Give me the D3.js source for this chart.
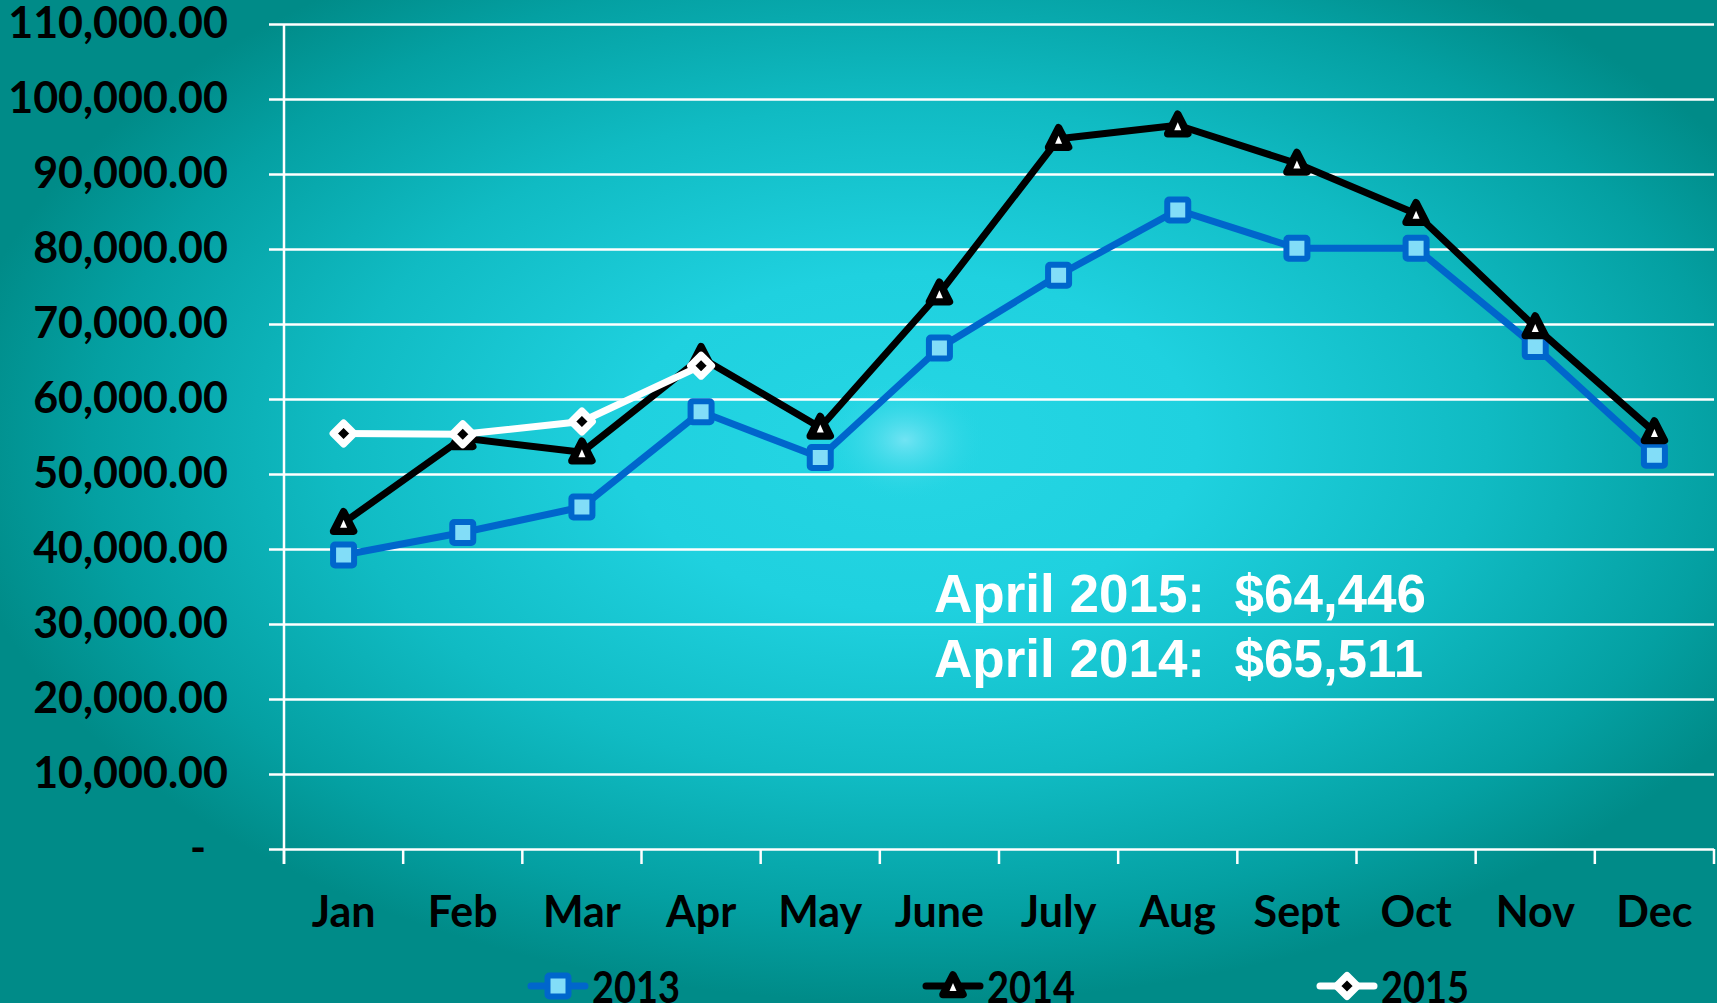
<!DOCTYPE html>
<html>
<head>
<meta charset="utf-8">
<script src="https://cdn.jsdelivr.net/npm/d3@7"></script>
<style>
  html, body { margin: 0; padding: 0; overflow: hidden; background: #008b88; }
</style>
</head>
<body>
<div id="chart"></div>
<script>
// chart data
const months = ["Jan", "Feb", "Mar", "Apr", "May", "June", "July", "Aug", "Sept", "Oct", "Nov", "Dec"];
const sales2013 = [39200, 42200, 45600, 58300, 52200, 66800, 76500, 85200, 80100, 80100, 67000, 52500];
const sales2014 = [43500, 54800, 52900, 65511, 56200, 74100, 94700, 96500, 91400, 84700, 69600, 55600];
const sales2015 = [55400, 55300, 57000, 64446];
const seriesNames = ["2013", "2014", "2015"];
const yTicks = d3.range(0, 110001, 10000);
const notes = ["April 2015:  $64,446", "April 2014:  $65,511"];

// layout
const W = 1717, H = 1003;
const PLOT = { left: 284, right: 1714, top: 24, bottom: 849 };
const TICK = 15;
const AXIS_FONT = "Lato, 'Open Sans', sans-serif";

const svg = d3.select("#chart").append("svg")
  .attr("width", W)
  .attr("height", H);

// background gradient
const defs = svg.append("defs");
const bg = defs.append("radialGradient")
  .attr("id", "bg")
  .attr("cx", 0.53).attr("cy", 0.44).attr("r", 0.56);
[[0, "#26d6e4"], [0.3, "#1fd1df"], [0.6, "#10bbc3"], [0.85, "#04a0a2"], [1, "#008b88"]]
  .forEach(([o, c]) => bg.append("stop").attr("offset", o).attr("stop-color", c));
const spot = defs.append("radialGradient").attr("id", "spot");
spot.append("stop").attr("offset", 0).attr("stop-color", "#7ee6f6").attr("stop-opacity", 0.85);
spot.append("stop").attr("offset", 1).attr("stop-color", "#26d6e4").attr("stop-opacity", 0);

svg.append("rect").attr("width", W).attr("height", H).attr("fill", "url(#bg)");
svg.append("ellipse")
  .attr("cx", 905).attr("cy", 440).attr("rx", 80).attr("ry", 60)
  .attr("fill", "url(#spot)");

// scales
const x = d3.scaleBand().domain(months).range([PLOT.left, PLOT.right]);
const y = d3.scaleLinear().domain([0, 110000]).range([PLOT.bottom, PLOT.top]);

// grid lines (incl. the zero line, which doubles as x axis)
svg.append("g")
  .attr("transform", `translate(${PLOT.left},0)`)
  .call(d3.axisLeft(y).tickValues(yTicks).tickSizeInner(-(PLOT.right - PLOT.left)).tickSizeOuter(0).tickFormat(""))
  .call((g) => g.select(".domain").remove())
  .call((g) => g.selectAll("line").attr("stroke", "#ffffff").attr("stroke-width", 2.5).attr("x1", -TICK));

// y axis labels
svg.append("g")
  .attr("transform", `translate(${PLOT.left},0)`)
  .call(d3.axisLeft(y).tickValues(yTicks).tickSize(TICK).tickPadding(41)
    .tickFormat((d) => (d === 0 ? "-" : d3.format(",.2f")(d))))
  .call((g) => g.select(".domain").remove())
  .call((g) => g.selectAll("line").remove())
  .call((g) => g.selectAll("text")
    .attr("font-family", AXIS_FONT)
    .attr("font-weight", 700)
    .attr("font-size", 43)
    .attr("fill", "#000")
    .attr("dx", (d) => (d === 0 ? -22 : 0)));

// y axis line
svg.append("line")
  .attr("x1", PLOT.left).attr("x2", PLOT.left)
  .attr("y1", PLOT.top).attr("y2", PLOT.bottom + TICK)
  .attr("stroke", "#fff").attr("stroke-width", 2.5);

// category boundary ticks
svg.append("g")
  .selectAll("line")
  .data(d3.range(months.length + 1))
  .join("line")
  .attr("x1", (i) => PLOT.left + i * x.step())
  .attr("x2", (i) => PLOT.left + i * x.step())
  .attr("y1", PLOT.bottom)
  .attr("y2", PLOT.bottom + TICK)
  .attr("stroke", "#fff")
  .attr("stroke-width", 2.5);

// x axis labels
svg.append("g")
  .attr("transform", `translate(0,${PLOT.bottom})`)
  .call(d3.axisBottom(x).tickSize(0).tickPadding(47))
  .call((g) => g.select(".domain").remove())
  .call((g) => g.selectAll("text")
    .attr("font-family", AXIS_FONT)
    .attr("font-weight", 700)
    .attr("font-size", 43)
    .attr("fill", "#000"));

// marker shapes
const markers = {
  "2013": (g) => g.append("rect")
    .attr("x", -10.5).attr("y", -10.5).attr("width", 21).attr("height", 21).attr("rx", 2)
    .attr("fill", "#82ddf8").attr("stroke", "#0066cc").attr("stroke-width", 6),
  "2014": (g) => {
    g.append("path")
      .attr("d", "M0,-11L10,8.5L-10,8.5Z")
      .attr("fill", "#000").attr("stroke", "#000").attr("stroke-width", 7.5)
      .attr("stroke-linejoin", "round");
    g.append("path")
      .attr("d", "M0,-3L3.5,5L-3.5,5Z")
      .attr("fill", "#fff");
  },
  "2015": (g) => g.append("path")
    .attr("d", "M0,-10.5L10.5,0L0,10.5L-10.5,0Z")
    .attr("fill", "#000").attr("stroke", "#fff").attr("stroke-width", 7)
    .attr("stroke-linejoin", "round"),
};
const lineColor = { "2013": "#0066cc", "2014": "#000000", "2015": "#ffffff" };

const series = [sales2013, sales2014, sales2015].map((vals, i) => ({
  name: seriesNames[i],
  points: vals.map((v, j) => ({ month: months[j], value: v })),
}));

const line = d3.line()
  .x((d) => x(d.month) + x.bandwidth() / 2)
  .y((d) => y(d.value));

series.forEach((s) => {
  const g = svg.append("g").attr("class", "series");
  g.append("path")
    .attr("d", line(s.points))
    .attr("fill", "none")
    .attr("stroke", lineColor[s.name])
    .attr("stroke-width", 7)
    .attr("stroke-linejoin", "round");
  g.selectAll("g.mark")
    .data(s.points)
    .join("g")
    .attr("class", "mark")
    .attr("transform", (d) => `translate(${x(d.month) + x.bandwidth() / 2},${y(d.value)})`)
    .each(function () { markers[s.name](d3.select(this)); });
});

// annotation
svg.append("g")
  .selectAll("text")
  .data(notes)
  .join("text")
  .attr("x", 934)
  .attr("y", (_, i) => 612 + i * 65)
  .attr("font-family", "'Liberation Sans', Arial, sans-serif")
  .attr("font-weight", 700)
  .attr("font-size", 53)
  .attr("fill", "#fff")
  .style("white-space", "pre")
  .text((d) => d);

// legend
const legendX = [558, 953, 1347];
const legend = svg.append("g")
  .selectAll("g")
  .data(seriesNames)
  .join("g")
  .attr("transform", (_, i) => `translate(${legendX[i]},986)`);
legend.append("line")
  .attr("x1", -27).attr("x2", 27)
  .attr("stroke", (d) => lineColor[d])
  .attr("stroke-width", 7)
  .attr("stroke-linecap", "round");
legend.each(function (d) { markers[d](d3.select(this).append("g")); });
legend.append("text")
  .attr("x", 34)
  .attr("y", 17)
  .attr("font-family", AXIS_FONT)
  .attr("font-weight", 700)
  .attr("font-size", 43)
  .attr("fill", "#000")
  .attr("textLength", 88)
  .attr("lengthAdjust", "spacingAndGlyphs")
  .text((d) => d);
</script>
</body>
</html>
